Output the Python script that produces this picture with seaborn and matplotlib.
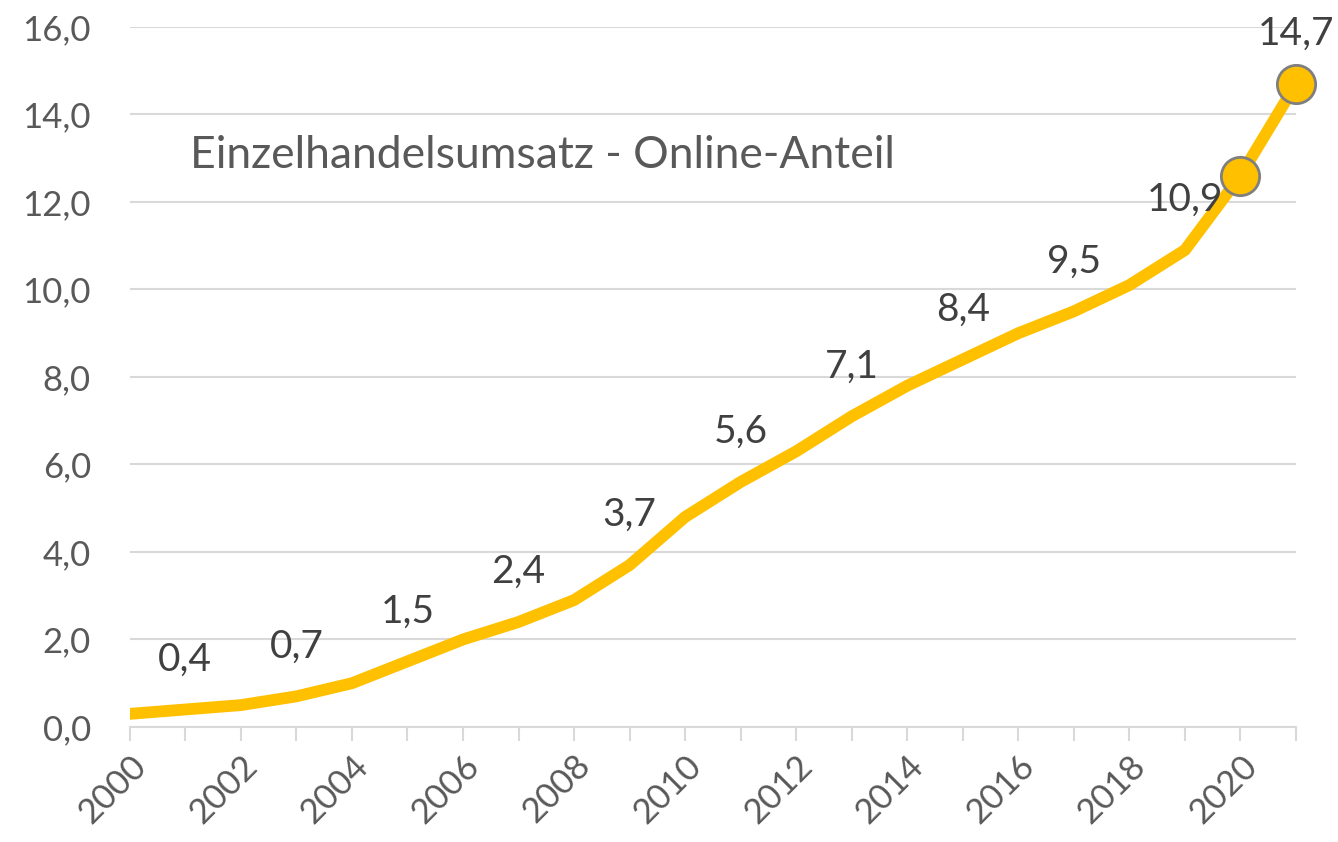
import numpy as np
import pandas as pd
import seaborn as sns
from matplotlib import pyplot as plt

# Online-Anteil am Einzelhandelsumsatz (%)
years = list(range(2000, 2022))
share = [0.3, 0.4, 0.5, 0.7, 1.0, 1.5, 2.0, 2.4, 2.9, 3.7, 4.8,
         5.6, 6.3, 7.1, 7.8, 8.4, 9.0, 9.5, 10.1, 10.9, 12.6, 14.7]
label_years = [2001, 2003, 2005, 2007, 2009, 2011, 2013, 2015, 2017, 2019, 2021]
marker_years = [2020, 2021]
title = 'Einzelhandelsumsatz - Online-Anteil'

df = pd.DataFrame({'year': years, 'share': share})

sns.set_style('white')
plt.rcParams['font.family'] = ['Lato', 'DejaVu Sans']

fig = plt.figure(figsize=(13.38, 8.42), dpi=100)
ax = fig.add_axes([0.097, 0.1366, 0.8716, 0.8314])

yellow = '#FFC000'
sns.lineplot(data=df, x='year', y='share', ax=ax, color=yellow, linewidth=8.5,
             solid_joinstyle='miter', zorder=3)
mk = df[df['year'].isin(marker_years)]
sns.scatterplot(data=mk, x='year', y='share', ax=ax, color=yellow, s=760,
                edgecolor='#7F7F7F', linewidth=2, zorder=4, clip_on=False)

# Datenbeschriftungen
for _, row in df[df['year'].isin(label_years)].iterrows():
    ax.annotate(f"{row['share']:.1f}".replace('.', ','), (row['year'], row['share']),
                xytext=(0, 36), textcoords='offset points', ha='center', va='center',
                fontsize=28, color='#404040', zorder=5, annotation_clip=False)

ax.text(2001.08, 13.07, title, fontsize=32, color='#595959', va='center', ha='left')

ax.set_xlim(2000, 2021)
ax.set_ylim(0, 16)
ax.set_yticks(np.arange(0, 17, 2))
ax.set_yticklabels([f'{v:.1f}'.replace('.', ',') for v in np.arange(0, 17, 2)])
ax.set_xticks(range(2000, 2021, 2))
ax.set_xticks(range(2000, 2022), minor=True)
ax.set_xticklabels([str(y) for y in range(2000, 2021, 2)], rotation=45,
                   ha='right', rotation_mode='anchor')
ax.tick_params(axis='x', which='both', bottom=True, length=10, width=1.5,
               color='#D9D9D9', direction='out')
ax.tick_params(axis='x', which='major', labelsize=25, labelcolor='#595959', pad=6)
ax.tick_params(axis='y', length=0, labelsize=25, labelcolor='#595959', pad=28)
ax.yaxis.grid(True, color='#D9D9D9', linewidth=1.5)
ax.set_axisbelow(True)
ax.set_xlabel('')
ax.set_ylabel('')
for s in ['left', 'right', 'top']:
    ax.spines[s].set_visible(False)
ax.spines['bottom'].set_color('#D9D9D9')
ax.spines['bottom'].set_linewidth(1.5)

fig.savefig('out.png', dpi=100)
